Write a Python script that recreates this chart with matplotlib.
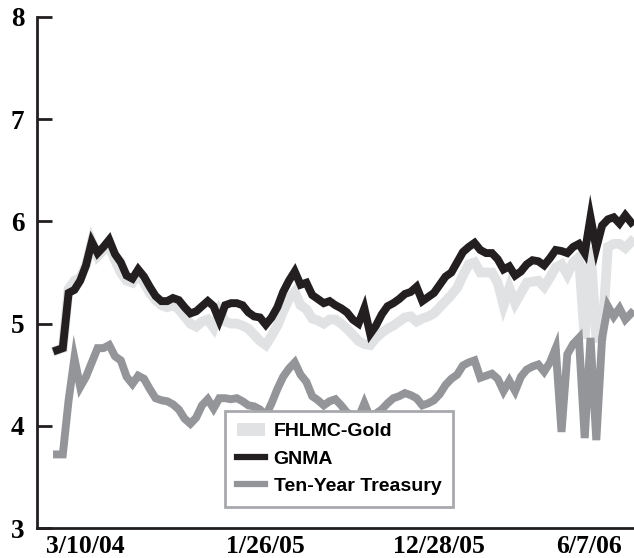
import numpy as np
import matplotlib.pyplot as plt
from matplotlib.lines import Line2D
from matplotlib.patches import Patch

# weekly yields (%)
gnma = [4.74, 4.76, 5.30, 5.33, 5.42, 5.57, 5.80, 5.69, 5.75, 5.82,
        5.68, 5.60, 5.47, 5.44, 5.53, 5.46, 5.36, 5.27, 5.22, 5.22,
        5.25, 5.23, 5.16, 5.10, 5.12, 5.17, 5.22, 5.17, 5.03, 5.18,
        5.20, 5.20, 5.18, 5.11, 5.07, 5.06, 4.99, 5.06, 5.16, 5.31,
        5.42, 5.51, 5.38, 5.40, 5.28, 5.24, 5.20, 5.22, 5.18, 5.15,
        5.11, 5.04, 5.00, 5.15, 4.90, 4.98, 5.09, 5.17, 5.20, 5.24,
        5.29, 5.31, 5.36, 5.22, 5.26, 5.30, 5.38, 5.46, 5.50, 5.60,
        5.70, 5.75, 5.79, 5.72, 5.69, 5.69, 5.63, 5.53, 5.56, 5.47,
        5.51, 5.58, 5.62, 5.61, 5.57, 5.64, 5.72, 5.71, 5.69, 5.75,
        5.78, 5.69, 6.04, 5.74, 5.96, 6.02, 6.04, 5.98, 6.06, 5.99]

fhlmc = [4.74, 4.76, 5.34, 5.42, 5.45, 5.57, 5.80, 5.66, 5.72, 5.76,
         5.62, 5.50, 5.42, 5.40, 5.48, 5.40, 5.30, 5.23, 5.18, 5.16,
         5.18, 5.14, 5.07, 5.00, 4.97, 5.02, 5.04, 4.96, 5.12, 5.02,
         5.00, 5.00, 4.98, 4.95, 4.89, 4.83, 4.79, 4.88, 4.98, 5.12,
         5.24, 5.31, 5.18, 5.14, 5.05, 5.03, 5.00, 5.04, 5.04, 5.00,
         4.95, 4.89, 4.83, 4.80, 4.79, 4.86, 4.91, 4.95, 4.98, 5.02,
         5.06, 5.07, 5.02, 5.05, 5.07, 5.10, 5.16, 5.22, 5.28, 5.35,
         5.47, 5.58, 5.60, 5.50, 5.50, 5.50, 5.40, 5.18, 5.35, 5.20,
         5.30, 5.40, 5.41, 5.42, 5.36, 5.45, 5.55, 5.58, 5.48, 5.60,
         5.65, 4.85, 5.75, 4.86, 4.87, 5.75, 5.78, 5.78, 5.74, 5.80]

treasury = [3.72, 3.72, 4.25, 4.66, 4.38, 4.48, 4.62, 4.76, 4.76, 4.79,
            4.68, 4.64, 4.48, 4.41, 4.49, 4.46, 4.36, 4.27, 4.25, 4.24,
            4.21, 4.16, 4.07, 4.02, 4.08, 4.20, 4.26, 4.17, 4.27, 4.27,
            4.26, 4.27, 4.24, 4.20, 4.19, 4.16, 4.10, 4.22, 4.36, 4.48,
            4.56, 4.62, 4.50, 4.43, 4.29, 4.25, 4.20, 4.24, 4.26, 4.20,
            4.13, 4.10, 4.08, 4.22, 4.08, 4.12, 4.16, 4.22, 4.27, 4.29,
            4.32, 4.30, 4.27, 4.20, 4.22, 4.25, 4.31, 4.40, 4.46, 4.50,
            4.59, 4.62, 4.64, 4.47, 4.49, 4.51, 4.46, 4.34, 4.44, 4.34,
            4.48, 4.55, 4.58, 4.60, 4.53, 4.62, 4.76, 3.94, 4.70, 4.80,
            4.86, 3.88, 4.86, 3.86, 4.86, 5.17, 5.07, 5.15, 5.04, 5.10]

tick_pos = [4.8, 35.9, 65.9, 91.7]
tick_labels = ['3/10/04', '1/26/05', '12/28/05', '6/7/06']

c_fhlmc = '#e1e2e3'
c_gnma = '#231f20'
c_tsy = '#939598'

x = np.arange(len(gnma))

fig = plt.figure(figsize=(6.34, 5.58), dpi=100)
ax = fig.add_axes([37 / 634, 30 / 558, 597 / 634, 511 / 558])

ax.plot(x, fhlmc, color=c_fhlmc, lw=7, solid_joinstyle='miter', zorder=2)
ax.plot(x, gnma, color=c_gnma, lw=5.7, solid_joinstyle='miter', zorder=3)
ax.plot(x, treasury, color=c_tsy, lw=5.7, solid_joinstyle='miter', zorder=4)

ax.set_ylim(3, 8)
ax.set_xlim(-3.45, 99.5)
ax.set_yticks([3, 4, 5, 6, 7, 8])
ax.set_xticks(tick_pos)
ax.set_xticklabels(tick_labels)

for s in ['top', 'right']:
    ax.spines[s].set_visible(False)
for s in ['left', 'bottom']:
    ax.spines[s].set_color(c_gnma)
    ax.spines[s].set_linewidth(2)

ax.tick_params(axis='y', direction='in', length=11, width=2, color=c_gnma, pad=9)
ax.tick_params(axis='x', length=0, pad=5)
for lab in ax.get_yticklabels():
    lab.set_fontfamily('Liberation Serif')
    lab.set_fontweight('bold')
    lab.set_fontsize(19.5)
for lab in ax.get_xticklabels():
    lab.set_fontfamily('Liberation Serif')
    lab.set_fontweight('bold')
    lab.set_fontsize(18.5)

handles = [Patch(facecolor=c_fhlmc, edgecolor='none'),
           Line2D([], [], color=c_gnma, lw=4.5),
           Line2D([], [], color=c_tsy, lw=4.5)]
leg = fig.legend(handles, ['FHLMC-Gold', 'GNMA', 'Ten-Year Treasury'],
                 loc='upper left', bbox_to_anchor=(225 / 634, 1 - 411 / 558),
                 borderaxespad=0, fancybox=False, framealpha=1,
                 edgecolor='#a7a9ac', handlelength=1.45, handleheight=0.7,
                 handletextpad=0.45, labelspacing=0.5, borderpad=0.6,
                 prop={'family': 'Liberation Sans', 'weight': 'bold', 'size': 14})
leg.get_frame().set_linewidth(2)
leg.set_zorder(10)

fig.savefig('out.png', dpi=100)
